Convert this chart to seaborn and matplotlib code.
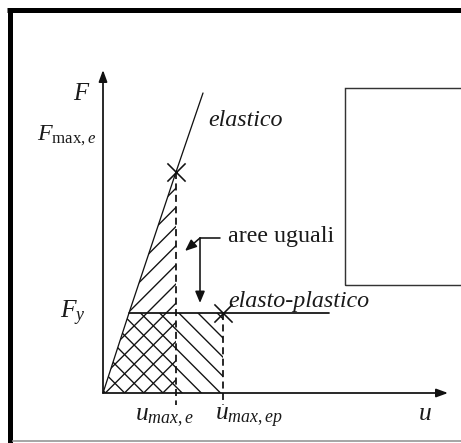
import matplotlib
matplotlib.use("Agg")
import matplotlib.pyplot as plt
from matplotlib.lines import Line2D
from matplotlib.patches import Polygon, Rectangle
import seaborn as sns
import pandas as pd

# --- diagram values (u: displacement, F: force) ---
u_elastic = [0, 26, 73, 100]
F_elastic = [0, 80, 221, 300]
F_y = 80
u_yield = 26
u_max_e = 73
F_max_e = 221
u_max_ep = 120
u_plastic_end = 226
labels = {
    "F": r"$F$",
    "Fmax": r"$F_{\mathrm{max},e}$",
    "Fy": r"$F_y$",
    "u": r"$u$",
    "umaxe": r"$u_{max,e}$",
    "umaxep": r"$u_{max,ep}$",
    "elastic": "elastico",
    "ep": "elasto-plastico",
    "equal": "aree uguali",
}

sns.set_style("white")
plt.rcParams["mathtext.fontset"] = "custom"
plt.rcParams["mathtext.rm"] = "Liberation Serif"
plt.rcParams["mathtext.it"] = "Liberation Serif:italic"
plt.rcParams["font.family"] = ["Liberation Serif", "DejaVu Serif"]
plt.rcParams["hatch.linewidth"] = 0.85

DPI = 115
W, H = 461, 443
fig = plt.figure(figsize=((W + 0.01) / DPI, (H + 0.01) / DPI), dpi=DPI)
ax = fig.add_axes([0, 0, 1, 1])
ax.set_xlim(-103, W - 103)
ax.set_ylim(-(H - 393), 393)
ax.axis("off")

ink = "#111111"

# hatched areas: elastic triangle ('/') and elasto-plastic area ('\')
ax.add_patch(Polygon([(0, 0), (u_yield, F_y), (u_max_e, F_max_e), (u_max_e, 0)],
                     closed=True, facecolor="none", edgecolor=ink, hatch="//", linewidth=0))
ax.add_patch(Polygon([(0, 0), (u_yield, F_y), (u_max_ep, F_y), (u_max_ep, 0)],
                     closed=True, facecolor="none", edgecolor=ink, hatch="\\\\", linewidth=0))

# curves
df_el = pd.DataFrame({"u": u_elastic, "F": F_elastic})
sns.lineplot(data=df_el, x="u", y="F", ax=ax, color=ink, lw=0.8, sort=False, estimator=None)
df_ep = pd.DataFrame({"u": [u_yield, u_plastic_end], "F": [F_y, F_y]})
sns.lineplot(data=df_ep, x="u", y="F", ax=ax, color=ink, lw=1.1, sort=False, estimator=None)

# dashed verticals
for ux, fv in [(u_max_e, F_max_e), (u_max_ep, F_y)]:
    ax.plot([ux, ux], [fv, -12], color=ink, lw=1.1, ls=(0, (4, 2.5)))

# maximum markers
ax.scatter([u_max_e, u_max_ep], [F_max_e, F_y], marker="x", s=130, color=ink, linewidths=1.0, zorder=5)

# axes arrows
arrow_kw = dict(arrowstyle="-|>,head_length=0.6,head_width=0.22", color=ink, lw=1.1,
                shrinkA=0, shrinkB=0, mutation_scale=10)
ax.annotate("", xy=(345, 0), xytext=(0, 0), arrowprops=arrow_kw)
ax.annotate("", xy=(0, 323), xytext=(0, 0), arrowprops=arrow_kw)

# "aree uguali" leader arrows
small_arrow = dict(arrowstyle="-|>,head_length=0.6,head_width=0.25", color=ink, lw=1.0,
                   shrinkA=0, shrinkB=0, mutation_scale=10)
ax.plot([117, 97], [155, 155], color=ink, lw=1.0)
ax.annotate("", xy=(97, 90), xytext=(97, 155), arrowprops=small_arrow)
ax.annotate("", xy=(82, 142), xytext=(97, 155), arrowprops=small_arrow)

# empty box on the right
ax.add_patch(Rectangle((242, 108), 300, 197, facecolor="none", edgecolor="#333333", lw=0.9))

# labels
tcol = "#1a1a1a"
ax.text(-30, 293, labels["F"], fontsize=15.5, color=tcol, ha="left", va="baseline")
ax.text(-66, 253, labels["Fmax"], fontsize=15, color=tcol, ha="left", va="baseline")
ax.text(-43, 75, labels["Fy"], fontsize=16, color=tcol, ha="left", va="baseline")
ax.text(105, 267, labels["elastic"], fontsize=15, style="italic", color=tcol, ha="left", va="baseline")
ax.text(125, 151, labels["equal"], fontsize=15, color=tcol, ha="left", va="baseline")
ax.text(125, 86, labels["ep"], fontsize=15, style="italic", color=tcol, ha="left", va="baseline")
ax.text(32, -27, labels["umaxe"], fontsize=16, color=tcol, ha="left", va="baseline")
ax.text(112, -27, labels["umaxep"], fontsize=16, color=tcol, ha="left", va="baseline")
ax.text(315, -27, labels["u"], fontsize=16, color=tcol, ha="left", va="baseline")

# outer frame: heavy top/left edges, light bottom edge
def fx(px):
    return px / W

def fy(py):
    return 1 - py / H

px2pt = 72 / DPI
fig.add_artist(Line2D([fx(7), fx(W)], [fy(10.5), fy(10.5)], color="black",
                      lw=5 * px2pt, solid_capstyle="butt"))
fig.add_artist(Line2D([fx(9.5), fx(9.5)], [fy(8), fy(H)], color="black",
                      lw=5 * px2pt, solid_capstyle="butt"))
fig.add_artist(Line2D([fx(12), fx(W)], [fy(441.5), fy(441.5)], color="#8a8a8a",
                      lw=1.5 * px2pt, solid_capstyle="butt"))

fig.savefig("out.png", dpi=DPI)
